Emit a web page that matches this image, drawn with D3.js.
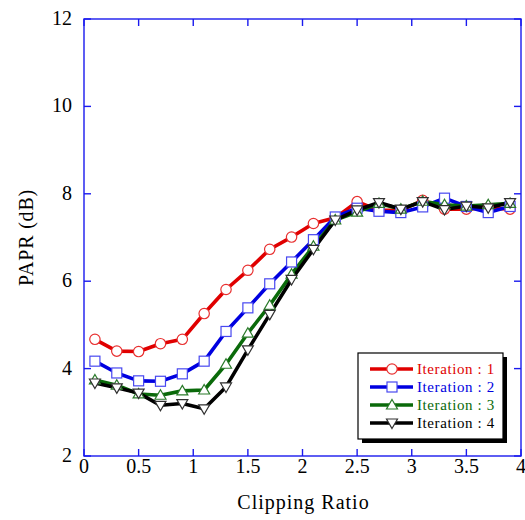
<!DOCTYPE html>
<html lang="en">
<head>
<meta charset="utf-8">
<script src="https://d3js.org/d3.v7.min.js"></script>
<style>
  body { margin: 0; padding: 0; background: #fff; }
  svg text { font-family: "Liberation Serif", "DejaVu Serif", serif; }
</style>
</head>
<body>
<svg id="chart" width="525" height="520"></svg>
<script>
// clipping ratio values
var ratios = [0.1, 0.3, 0.5, 0.7, 0.9, 1.1, 1.3, 1.5, 1.7, 1.9, 2.1, 2.3, 2.5, 2.7, 2.9, 3.1, 3.3, 3.5, 3.7, 3.9];

// PAPR (dB) for each iteration
var iter1 = [4.67, 4.40, 4.39, 4.57, 4.67, 5.26, 5.81, 6.25, 6.73, 7.01, 7.32, 7.45, 7.82, 7.62, 7.62, 7.85, 7.65, 7.65, 7.68, 7.65];
var iter2 = [4.17, 3.90, 3.72, 3.71, 3.88, 4.17, 4.85, 5.39, 5.94, 6.44, 6.95, 7.47, 7.67, 7.60, 7.57, 7.70, 7.90, 7.71, 7.57, 7.71];
var iter3 = [3.74, 3.62, 3.42, 3.39, 3.49, 3.51, 4.10, 4.81, 5.45, 6.16, 6.80, 7.40, 7.58, 7.78, 7.65, 7.83, 7.75, 7.72, 7.75, 7.78];
var iter4 = [3.67, 3.56, 3.44, 3.16, 3.20, 3.08, 3.58, 4.43, 5.24, 6.04, 6.73, 7.40, 7.63, 7.80, 7.65, 7.82, 7.64, 7.72, 7.68, 7.80];

var xTicks = [0, 0.5, 1, 1.5, 2, 2.5, 3, 3.5, 4];
var yTicks = [2, 4, 6, 8, 10, 12];

var seriesNames = ["Iteration : 1", "Iteration : 2", "Iteration : 3", "Iteration : 4"];

var series = [
  { name: seriesNames[0], values: iter1, color: "#e00000", mark: "#e83030", symbol: "circle" },
  { name: seriesNames[1], values: iter2, color: "#0000e0", mark: "#4848f0", symbol: "square" },
  { name: seriesNames[2], values: iter3, color: "#0a6a0a", mark: "#2a7a2a", symbol: "up" },
  { name: seriesNames[3], values: iter4, color: "#000000", mark: "#303030", symbol: "down" }
];

var svg = d3.select("#chart");
var margin = { left: 84, right: 4, top: 19, bottom: 64 };
var width = 525 - margin.left - margin.right,
    height = 520 - margin.top - margin.bottom;

var x = d3.scaleLinear().domain([0, 4]).range([margin.left, margin.left + width]);
var y = d3.scaleLinear().domain([2, 12]).range([margin.top + height, margin.top]);

var axisColor = "#1a1aee";

// frame
svg.append("rect")
  .attr("x", x(0)).attr("y", y(12))
  .attr("width", x(4) - x(0)).attr("height", y(2) - y(12))
  .attr("fill", "none").attr("stroke", axisColor).attr("stroke-width", 1.4);

// ticks pointing inward
var tl = 7;
var g = svg.append("g").attr("stroke", axisColor).attr("stroke-width", 1.4);
xTicks.forEach(function (t) {
  g.append("line").attr("x1", x(t)).attr("x2", x(t)).attr("y1", y(2)).attr("y2", y(2) - tl);
  g.append("line").attr("x1", x(t)).attr("x2", x(t)).attr("y1", y(12)).attr("y2", y(12) + tl);
});
yTicks.forEach(function (t) {
  g.append("line").attr("x1", x(0)).attr("x2", x(0) + tl).attr("y1", y(t)).attr("y2", y(t));
  g.append("line").attr("x1", x(4)).attr("x2", x(4) - tl).attr("y1", y(t)).attr("y2", y(t));
});

// tick labels
svg.append("g").selectAll("text").data(xTicks).enter().append("text")
  .attr("x", function (d) { return x(d); })
  .attr("y", y(2) + 17)
  .attr("text-anchor", "middle")
  .style("font-size", "20px")
  .text(function (d) { return d; });

svg.append("g").selectAll("text").data(yTicks).enter().append("text")
  .attr("x", x(0) - 12)
  .attr("y", function (d) { return y(d) + 6; })
  .attr("text-anchor", "end")
  .style("font-size", "20px")
  .text(function (d) { return d; });

// axis titles
svg.append("text")
  .attr("x", (x(0) + x(4)) / 2 + 1)
  .attr("y", 509)
  .attr("text-anchor", "middle")
  .style("font-size", "20px")
  .style("letter-spacing", "1px")
  .text("Clipping Ratio");

svg.append("text")
  .attr("transform", "translate(33," + ((y(2) + y(12)) / 2) + ") rotate(-90)")
  .attr("text-anchor", "middle")
  .style("font-size", "20px")
  .style("letter-spacing", "0.8px")
  .text("PAPR (dB)");

// marker drawing
function drawMarker(sel, s, cx, cy) {
  if (s.symbol === "circle") {
    sel.append("circle").attr("cx", cx).attr("cy", cy).attr("r", 5.2)
      .attr("fill", "#fff").attr("stroke", s.mark).attr("stroke-width", 1.2);
  } else if (s.symbol === "square") {
    sel.append("rect").attr("x", cx - 5).attr("y", cy - 5).attr("width", 10).attr("height", 10)
      .attr("fill", "#fff").attr("stroke", s.mark).attr("stroke-width", 1.2);
  } else if (s.symbol === "up") {
    sel.append("path")
      .attr("d", "M" + cx + "," + (cy - 5.5) + "L" + (cx + 5.5) + "," + (cy + 4) + "L" + (cx - 5.5) + "," + (cy + 4) + "Z")
      .attr("fill", "#fff").attr("stroke", s.mark).attr("stroke-width", 1.2);
  } else {
    sel.append("path")
      .attr("d", "M" + cx + "," + (cy + 5.5) + "L" + (cx + 5.5) + "," + (cy - 4) + "L" + (cx - 5.5) + "," + (cy - 4) + "Z")
      .attr("fill", "#fff").attr("stroke", s.mark).attr("stroke-width", 1.2);
  }
}

var line = d3.line()
  .x(function (d, i) { return x(ratios[i]); })
  .y(function (d) { return y(d); });

series.forEach(function (s) {
  svg.append("path")
    .datum(s.values)
    .attr("d", line)
    .attr("fill", "none")
    .attr("stroke", s.color)
    .attr("stroke-width", 3.6)
    .attr("stroke-linejoin", "round");
});
series.forEach(function (s) {
  var mg = svg.append("g");
  s.values.forEach(function (v, i) {
    drawMarker(mg, s, x(ratios[i]), y(v));
  });
});

// legend
var lx = 358, ly = 353, lw = 145, lh = 86;
svg.append("rect").attr("x", lx + 4).attr("y", ly + 4).attr("width", lw).attr("height", lh).attr("fill", "#000");
svg.append("rect").attr("x", lx).attr("y", ly).attr("width", lw).attr("height", lh)
  .attr("fill", "#fff").attr("stroke", "#000").attr("stroke-width", 1.2);

series.forEach(function (s, i) {
  var yy = ly + 16 + i * 18;
  svg.append("line").attr("x1", lx + 12).attr("x2", lx + 55).attr("y1", yy).attr("y2", yy)
    .attr("stroke", s.color).attr("stroke-width", 3.6);
  drawMarker(svg, s, lx + 34, yy);
  svg.append("text")
    .attr("x", lx + 59)
    .attr("y", yy + 5)
    .style("font-size", "15px")
    .style("letter-spacing", "0.6px")
    .attr("fill", s.color)
    .text(s.name);
});
</script>
</body>
</html>
